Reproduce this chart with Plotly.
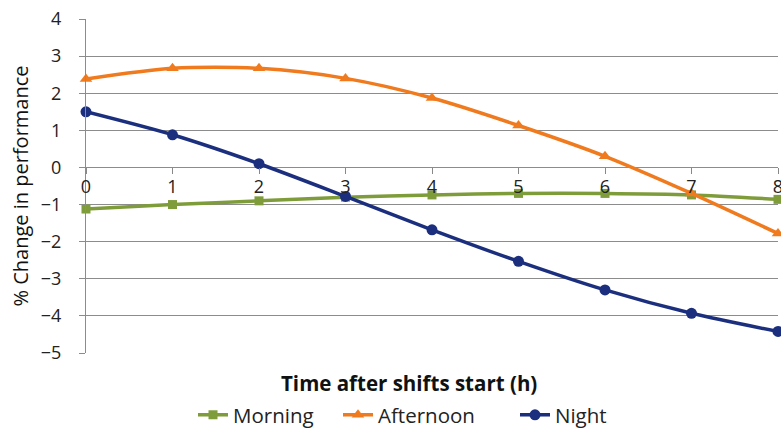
import plotly.graph_objects as go

hours = [0, 1, 2, 3, 4, 5, 6, 7, 8]
morning = [-1.12, -1.0, -0.9, -0.8, -0.74, -0.7, -0.7, -0.74, -0.86]
afternoon = [2.38, 2.67, 2.67, 2.4, 1.87, 1.13, 0.3, -0.7, -1.78]
night = [1.5, 0.88, 0.1, -0.78, -1.68, -2.53, -3.3, -3.93, -4.42]
y_ticks = [4, 3, 2, 1, 0, -1, -2, -3, -4, -5]

FONT = "Open Sans"
TXT = "#222222"
fig = go.Figure()
series = [
    ("Morning", morning, "#7f9c3a", "square", 9, "legend", 200),
    ("Afternoon", afternoon, "#f07a1e", "triangle-up", 11, "legend2", 345),
    ("Night", night, "#1b2f7e", "circle", 11, "legend3", 522),
]
legend_px = {}
for name, vals, col, sym, sz, leg, px in series:
    fig.add_trace(go.Scatter(
        x=hours, y=vals, name=name, mode="lines+markers",
        line=dict(color=col, width=3.5, shape="spline", smoothing=0.8),
        marker=dict(symbol=sym, size=sz, color=col),
        cliponaxis=False, legend=leg,
    ))
    legend_px[leg] = px

legend_common = dict(orientation="h", xref="container", yref="container",
                     xanchor="left", y=0.035, yanchor="middle",
                     font=dict(size=20.5, color=TXT), bgcolor="rgba(0,0,0,0)")
fig.update_layout(
    width=781, height=430,
    margin=dict(l=86, r=3, t=19, b=77, autoexpand=False),
    paper_bgcolor="white", plot_bgcolor="white",
    font=dict(family=FONT, size=18, color=TXT),
    showlegend=True,
    legend=dict(x=(legend_px["legend"] - 7) / 781, **legend_common),
    legend2=dict(x=(legend_px["legend2"] - 7) / 781, **legend_common),
    legend3=dict(x=(legend_px["legend3"] - 7) / 781, **legend_common),
    xaxis=dict(
        range=[0, 8], tickvals=hours, ticktext=[str(h) for h in hours],
        anchor="free", position=5/9, showgrid=False, zeroline=False,
        showline=False, ticks="outside", ticklen=6, tickcolor="#888888",
        tickfont=dict(size=18, color=TXT), ticklabelstandoff=-3,
        ticklabeloverflow="allow",
    ),
    yaxis=dict(
        range=[-5, 4], tickvals=y_ticks, showgrid=True, gridcolor="#8c8c8c",
        gridwidth=1, zeroline=False, showline=True, linecolor="#8c8c8c",
        ticks="outside", ticklen=6, tickcolor="#8c8c8c",
        tickfont=dict(size=18, color=TXT), ticklabelstandoff=14,
        title=dict(text="% Change in performance", font=dict(size=20, color="#111111"),
                   standoff=6),
    ),
)
fig.add_annotation(
    text="<b>Time after shifts start (h)</b>", xref="paper", yref="paper",
    x=0.467, y=-0.09, xanchor="center", yanchor="middle", showarrow=False,
    font=dict(size=20.5, color="#111111", family=FONT),
)
fig.write_html("out.html", config={"displayModeBar": False},
               post_script="document.body.style.margin='0';")
